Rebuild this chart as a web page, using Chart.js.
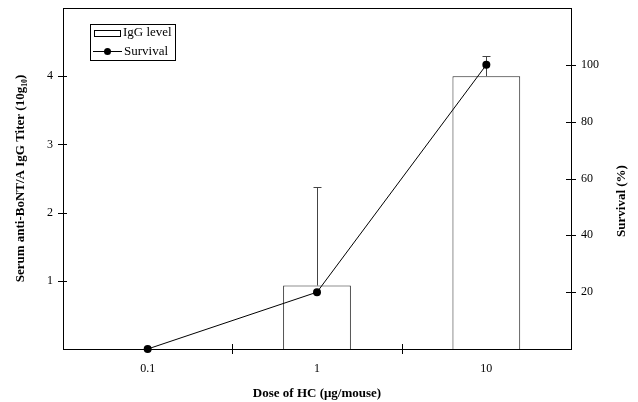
<!DOCTYPE html>
<html>
<head>
<meta charset="utf-8">
<script src="https://cdn.jsdelivr.net/npm/chart.js@4.4.0/dist/chart.umd.min.js"></script>
<style>
  html, body { margin: 0; padding: 0; background: #fff; }
  #wrap { width: 638px; height: 402px; position: relative; }
</style>
</head>
<body>
<div id="wrap"><canvas id="chart"></canvas></div>
<script>
const doses = ["0.1", "1", "10"];
const iggLevel = [0, 0.93, 4.0];
const iggErrTop = [null, 2.38, 4.29];
const survival = [0, 20, 100];
const leftTicks = [1, 2, 3, 4];
const rightTicks = [20, 40, 60, 80, 100];

const SERIF = "'Liberation Serif', 'Times New Roman', serif";
Chart.defaults.font.family = SERIF;
Chart.defaults.color = "#000";

// ticks that cross the axis lines, plus the top edge of the frame
const frame = {
  id: "frame",
  afterDraw(chart) {
    const { ctx, chartArea: a, scales: { x, y, y1 } } = chart;
    ctx.save();
    ctx.strokeStyle = "#000";
    ctx.lineWidth = 1;
    ctx.beginPath();
    ctx.moveTo(a.left, a.top + 0.5);
    ctx.lineTo(a.right, a.top + 0.5);
    leftTicks.forEach((v) => {
      const py = Math.round(y.getPixelForValue(v)) + 0.5;
      ctx.moveTo(a.left - 5, py);
      ctx.lineTo(a.left + 4, py);
    });
    rightTicks.forEach((v) => {
      const py = Math.round(y1.getPixelForValue(v)) + 0.5;
      ctx.moveTo(a.right - 5, py);
      ctx.lineTo(a.right + 5, py);
    });
    for (let i = 0; i < doses.length - 1; i++) {
      const px = Math.round((x.getPixelForValue(i) + x.getPixelForValue(i + 1)) / 2) + 0.5;
      ctx.moveTo(px, a.bottom - 5);
      ctx.lineTo(px, a.bottom + 5);
    }
    ctx.stroke();

    // right axis title reads bottom to top, like the left one
    ctx.fillStyle = "#000";
    ctx.font = "bold 13px " + SERIF;
    ctx.textAlign = "center";
    ctx.textBaseline = "middle";
    ctx.translate(622, 201);
    ctx.rotate(-Math.PI / 2);
    ctx.fillText("Survival (%)", 0, 0);
    ctx.restore();
  },
};

const errorBars = {
  id: "errorBars",
  afterDatasetDraw(chart, args) {
    if (args.index !== 0) return;
    const { ctx, scales: { x, y } } = chart;
    ctx.save();
    ctx.strokeStyle = "#444";
    ctx.lineWidth = 1;
    iggErrTop.forEach((top, i) => {
      if (top === null) return;
      const px = Math.round(x.getPixelForValue(i)) + 0.5;
      const y0 = y.getPixelForValue(iggLevel[i]);
      const yt = Math.round(y.getPixelForValue(top)) + 0.5;
      ctx.beginPath();
      ctx.moveTo(px, y0);
      ctx.lineTo(px, yt);
      ctx.moveTo(px - 4, yt);
      ctx.lineTo(px + 4, yt);
      ctx.stroke();
    });
    ctx.restore();
  },
};

const boxLegend = {
  id: "boxLegend",
  afterDraw(chart) {
    const { ctx } = chart;
    const ds = chart.data.datasets;
    ctx.save();
    ctx.strokeStyle = "#000";
    ctx.lineWidth = 1;
    ctx.strokeRect(90.5, 24.5, 85, 36);
    ctx.strokeRect(94.5, 30.5, 26, 6);
    ctx.beginPath();
    ctx.moveTo(93, 51.5);
    ctx.lineTo(122, 51.5);
    ctx.stroke();
    ctx.fillStyle = "#000";
    ctx.beginPath();
    ctx.arc(107.5, 51.5, 3.5, 0, Math.PI * 2);
    ctx.fill();
    ctx.font = "13px " + SERIF;
    ctx.textAlign = "left";
    ctx.textBaseline = "middle";
    ctx.fillText(ds[0].label, 123, 33);
    ctx.fillText(ds[1].label, 124, 52);
    ctx.restore();
  },
};

function noPad(s) {
  s.paddingTop = 0;
  s.paddingBottom = 0;
  s.paddingLeft = 0;
  s.paddingRight = 0;
}

new Chart(document.getElementById("chart"), {
  type: "bar",
  data: {
    labels: doses,
    datasets: [
      {
        label: "IgG level",
        data: iggLevel,
        yAxisID: "y",
        backgroundColor: "#fff",
        borderColor: "#222",
        borderWidth: 1,
        barPercentage: 0.4,
        categoryPercentage: 1,
        order: 1,
      },
      {
        label: "Survival",
        type: "line",
        data: survival,
        yAxisID: "y1",
        borderColor: "#000",
        borderWidth: 1,
        backgroundColor: "#000",
        pointRadius: 4,
        pointBorderWidth: 0,
        tension: 0,
        clip: false,
        order: 0,
      },
    ],
  },
  options: {
    responsive: true,
    maintainAspectRatio: false,
    animation: false,
    layout: { padding: { top: 8, left: 0, right: 0, bottom: 0 } },
    plugins: {
      legend: { display: false },
      tooltip: { enabled: false },
    },
    scales: {
      x: {
        offset: true,
        grid: { display: false, drawTicks: false },
        border: { display: true, color: "#000", width: 1 },
        ticks: { padding: 13, font: { size: 12 } },
        title: {
          display: true,
          text: "Dose of HC (μg/mouse)",
          font: { size: 13, weight: "bold" },
          padding: { top: 0, bottom: 1 },
        },
        afterFit: (s) => { noPad(s); s.height = 53; },
      },
      y: {
        position: "left",
        min: 0,
        max: 5,
        grid: { display: false, drawTicks: false },
        border: { display: true, color: "#000", width: 1 },
        ticks: {
          stepSize: 1,
          padding: 10,
          font: { size: 12 },
          callback: (v) => (leftTicks.includes(v) ? String(v) : ""),
        },
        title: {
          display: true,
          text: "Serum anti-BoNT/A IgG Titer (10g₁₀)",
          font: { size: 13, weight: "bold" },
          padding: { top: 13, bottom: 0 },
        },
        afterFit: (s) => { noPad(s); s.width = 63; },
      },
      y1: {
        position: "right",
        min: 0,
        max: 120,
        grid: { display: false, drawTicks: false },
        border: { display: true, color: "#000", width: 1 },
        ticks: {
          stepSize: 20,
          padding: 10,
          font: { size: 12 },
          callback: (v) => (rightTicks.includes(v) ? String(v) : ""),
        },
        afterFit: (s) => { noPad(s); s.width = 67; },
      },
    },
  },
  plugins: [errorBars, frame, boxLegend],
});
</script>
</body>
</html>
